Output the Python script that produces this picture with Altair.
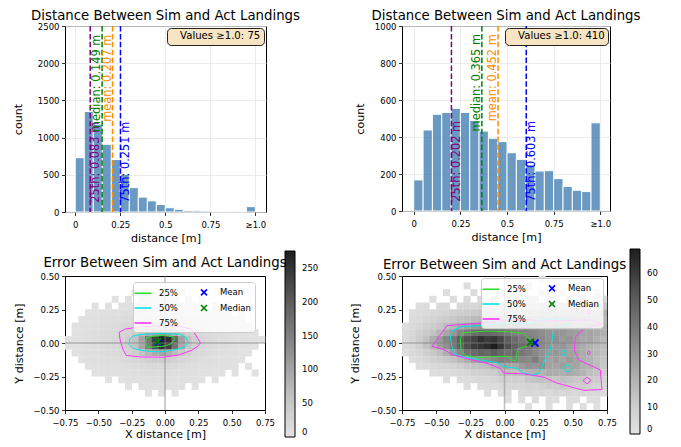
import altair as alt
import pandas as pd

FONT = "DejaVu Sans"

# ---------------- histogram data ----------------
BIN_LEFT = [0.00, 0.05, 0.10, 0.15, 0.20, 0.25, 0.30, 0.35, 0.40, 0.45,
            0.50, 0.55, 0.60, 0.65, 0.70, 0.75, 0.80, 0.85, 0.90, 0.95]
BIN_WIDTH = 0.05
HIST_L_COUNTS = [730, 1350, 1180, 910, 705, 506, 327, 200, 150, 100,
                 57, 36, 19, 17, 13, 5, 4, 3, 3, 72]
HIST_R_COUNTS = [168, 438, 523, 533, 555, 533, 490, 432, 393, 375,
                 315, 279, 250, 216, 218, 175, 133, 112, 105, 477]
STAT_NAMES = ["25th", "median", "mean", "75th"]
STAT_COLORS = ["purple", "green", "darkorange", "blue"]
HIST_L_STATS = [0.083, 0.149, 0.207, 0.251]
HIST_R_STATS = [0.202, 0.365, 0.452, 0.603]
HIST_L_OVER = 75
HIST_R_OVER = 410
HIST_X_TICKS = [0, 0.25, 0.5, 0.75, 1.0]
HIST_L_YTICKS = [0, 500, 1000, 1500, 2000, 2500]
HIST_R_YTICKS = [0, 200, 400, 600, 800, 1000]
HIST_L_XDOMAIN = [-0.057, 1.059]
HIST_R_XDOMAIN = [-0.063, 1.052]

# ---------------- 2D histogram data ----------------
HEAT_BIN = 0.05
HEAT_X_LOW = [-0.75, -0.70, -0.65, -0.60, -0.55, -0.50, -0.45, -0.40, -0.35, -0.30,
              -0.25, -0.20, -0.15, -0.10, -0.05, 0.00, 0.05, 0.10, 0.15, 0.20,
              0.25, 0.30, 0.35, 0.40, 0.45, 0.50, 0.55, 0.60, 0.65, 0.70]
HEAT_Y_LOW = [0.45, 0.40, 0.35, 0.30, 0.25, 0.20, 0.15, 0.10, 0.05, 0.00,
              -0.05, -0.10, -0.15, -0.20, -0.25, -0.30, -0.35, -0.40, -0.45, -0.50]
HEAT_X_TICKS = [-0.75, -0.5, -0.25, 0, 0.25, 0.5, 0.75]
HEAT_Y_TICKS = [-0.5, -0.25, 0, 0.25, 0.5]

HEAT_L = [
    [0] * 30,
    [0] * 30,
    [0,0,0,0,0,0,0,0,0,0,1,0,0,0,1,0,0,1,0,0,0,0,0,0,0,0,0,0,0,0],
    [0,0,0,0,0,0,0,1,0,2,0,2,3,2,3,2,2,0,1,0,1,0,0,0,0,0,0,0,0,0],
    [0,0,0,0,1,0,2,0,3,3,4,5,6,7,8,6,6,4,4,3,2,0,2,0,1,0,0,0,0,0],
    [0,0,0,2,2,3,4,5,6,8,9,11,12,14,15,14,12,10,8,7,5,4,3,3,2,0,1,0,0,0],
    [0,0,2,3,4,5,7,9,12,14,17,21,25,28,30,28,24,19,15,12,9,7,5,4,3,2,2,0,0,0],
    [0,2,3,4,6,8,10,13,17,22,28,38,48,56,60,56,46,34,25,18,13,10,7,5,4,3,2,2,0,0],
    [0,2,4,5,7,9,12,16,22,30,42,62,85,105,115,105,82,56,38,26,18,13,9,7,5,4,3,2,1,0],
    [1,2,4,6,8,11,14,19,27,38,58,100,165,235,270,255,185,105,60,36,24,16,11,8,6,4,3,2,2,1],
    [1,2,4,5,8,10,13,18,25,36,55,95,155,220,255,235,165,92,52,32,22,15,10,7,5,4,3,2,1,0],
    [0,2,3,5,6,8,11,15,20,27,38,55,75,92,98,88,68,47,32,22,15,11,8,6,4,3,2,2,0,0],
    [0,0,2,3,5,6,8,10,13,17,22,28,34,38,40,37,31,24,18,13,10,7,5,4,3,2,2,0,0,0],
    [0,0,0,2,3,4,5,6,8,10,12,14,16,18,18,17,15,12,10,8,6,5,4,3,2,2,0,1,0,0],
    [0,0,0,0,2,2,3,4,5,6,7,8,9,10,10,9,8,7,6,5,4,3,2,2,0,1,0,0,1,0],
    [0,0,0,0,0,0,1,0,2,3,3,4,4,5,5,4,4,3,3,2,2,0,1,0,0,0,0,0,0,0],
    [0,0,0,0,0,0,0,0,0,1,0,2,2,2,3,2,2,1,0,1,0,0,0,0,0,0,0,0,0,0],
    [0,0,0,0,0,0,0,0,0,0,0,0,1,0,1,0,1,0,0,0,0,0,0,0,0,0,0,0,0,0],
    [0] * 30,
    [0] * 30,
]

HEAT_R = [
    [0,0,0,0,0,0,0,0,0,0,0,0,0,0,0,0,0,0,0,0,2,0,0,0,0,0,0,0,0,0],
    [0,0,0,0,0,0,0,0,0,2,0,0,0,0,0,0,0,0,3,0,0,0,2,0,0,0,3,0,0,0],
    [0,0,0,0,0,0,2,0,0,0,3,0,0,0,3,0,0,4,0,0,4,0,0,3,0,4,0,0,3,0],
    [0,0,0,0,2,0,0,3,0,4,0,4,0,5,0,5,6,0,6,5,0,7,6,0,8,0,7,0,6,5],
    [0,0,2,3,0,4,4,0,5,6,6,7,8,8,9,10,9,10,11,10,12,11,13,12,12,13,14,12,13,12],
    [0,2,3,4,5,6,7,8,9,10,11,12,12,13,14,14,15,15,16,15,17,16,18,17,18,19,18,17,18,20],
    [0,3,4,6,7,9,10,12,14,15,17,18,19,19,20,21,21,22,21,22,23,22,24,22,23,22,21,20,19,18],
    [2,4,6,8,10,13,16,19,23,26,28,30,31,30,31,30,31,30,29,30,28,27,28,26,27,25,24,23,22,20],
    [3,5,8,11,14,19,24,30,36,40,45,47,46,45,43,40,38,37,36,35,33,31,30,30,28,27,25,25,23,21],
    [3,6,10,15,22,28,35,41,50,55,58,64,60,62,57,50,45,41,38,36,34,31,32,29,30,26,23,25,21,18],
    [3,5,8,14,20,27,32,40,48,55,60,62,65,69,62,55,48,45,41,38,34,31,29,30,27,25,22,20,18,16],
    [2,4,6,9,12,16,21,28,35,42,45,48,46,50,46,43,45,41,38,35,31,29,30,28,26,25,22,20,18,15],
    [0,2,4,6,8,10,12,14,18,22,28,30,32,35,38,36,38,35,34,38,31,26,28,25,28,25,22,20,16,13],
    [0,0,2,3,4,5,6,7,9,12,14,15,16,20,23,25,24,28,31,30,32,26,25,27,24,25,21,20,17,12],
    [0,0,0,0,2,3,3,4,5,6,8,8,9,10,14,16,15,17,20,21,20,23,22,21,23,22,20,16,14,10],
    [0,0,0,0,0,0,2,0,3,3,4,5,5,6,8,8,9,8,13,14,15,14,13,15,14,12,12,11,10,7],
    [0,0,0,0,0,0,0,0,0,2,0,2,3,3,4,5,6,6,7,6,8,10,9,11,10,9,10,8,7,5],
    [0,0,0,0,0,0,0,0,0,0,0,0,2,0,2,3,0,4,5,4,5,4,6,5,6,5,5,4,4,3],
    [0,0,0,0,0,0,0,0,0,0,0,0,0,0,0,2,0,2,0,3,0,3,2,0,3,3,0,2,2,0],
    [0,0,0,0,0,0,0,0,0,0,0,0,0,0,0,0,0,0,1,0,0,2,0,0,2,0,2,0,1,0],
]
HEAT_L_CMAX = 275
HEAT_R_CMAX = 69
HEAT_L_CTICKS = [0, 50, 100, 150, 200, 250]
HEAT_R_CTICKS = [0, 10, 20, 30, 40, 50, 60]

# contour outlines
L_C25_X = [-0.14, -0.09, -0.015, 0.065, 0.0725, 0.04, -0.015, -0.09, -0.14, -0.145, -0.14]
L_C25_Y = [0.040, 0.050, 0.056, 0.045, 0.028, -0.010, -0.025, -0.030, -0.030, 0.002, 0.040]
L_C50_X = [-0.265, -0.24, -0.165, -0.015, 0.11, 0.16, 0.1725, 0.1475, 0.06, -0.04, -0.14, -0.24, -0.27, -0.265]
L_C50_Y = [0.028, 0.053, 0.065, 0.071, 0.066, 0.040, 0.002, -0.031, -0.053, -0.066, -0.061, -0.041, -0.010, 0.028]
L_C75_X = [-0.345, -0.3025, -0.19, -0.015, 0.11, 0.1975, 0.235, 0.265, 0.2475, 0.1975, 0.0975, -0.015, -0.19, -0.29, -0.315, -0.335, -0.345]
L_C75_Y = [0.078, 0.103, 0.121, 0.129, 0.124, 0.103, 0.053, 0.002, -0.023, -0.056, -0.091, -0.106, -0.104, -0.093, -0.048, 0.015, 0.078]

R_C25_X = [-0.306, -0.136, 0.034, 0.143, 0.18, 0.184, 0.155, 0.095, 0.083, 0.053, 0.034, -0.063, -0.184, -0.282, -0.318, -0.323, -0.306]
R_C25_Y = [0.076, 0.089, 0.084, 0.071, 0.034, -0.002, -0.027, -0.044, -0.133, -0.126, -0.101, -0.101, -0.108, -0.094, -0.059, 0.034, 0.076]
R_C50_X = [-0.396, -0.384, -0.311, -0.177, 0.043, 0.165, 0.238, 0.335, 0.457, 0.482, 0.360, 0.348, 0.335, 0.299, 0.274, 0.250, 0.213, 0.140, 0.091, -0.006, -0.055, -0.177, -0.299, -0.372, -0.384, -0.396]
R_C50_Y = [0.044, 0.093, 0.123, 0.130, 0.147, 0.142, 0.167, 0.176, 0.179, 0.142, 0.105, 0.020, -0.054, -0.115, -0.176, -0.225, -0.238, -0.225, -0.189, -0.176, -0.147, -0.127, -0.103, -0.078, -0.029, 0.044]
R_C50B_X = [0.433, 0.451, 0.433, 0.415, 0.433]
R_C50B_Y = [-0.049, -0.074, -0.099, -0.074, -0.049]
R_C50C_X = [0.425, 0.46, 0.495, 0.46, 0.425]
R_C50C_Y = [-0.19, -0.16, -0.19, -0.22, -0.19]
R_C75_X = [-0.530, -0.421, -0.250, -0.055, 0.140, 0.262, 0.433, 0.628, 0.713, 0.579, 0.518, 0.511, 0.543, 0.701, 0.713, 0.579, 0.384, 0.287, 0.140, -0.006, -0.030, -0.128, -0.250, -0.372, -0.445, -0.530]
R_C75_Y = [-0.025, 0.130, 0.142, 0.162, 0.179, 0.162, 0.167, 0.172, 0.142, 0.105, 0.044, -0.054, -0.127, -0.201, -0.348, -0.353, -0.299, -0.255, -0.230, -0.225, -0.189, -0.152, -0.123, -0.091, -0.049, -0.025]
R_C75B_X = [0.617, 0.632, 0.617, 0.602, 0.617]
R_C75B_Y = [0.252, 0.232, 0.212, 0.232, 0.252]
R_C75C_X = [0.617, 0.629, 0.617, 0.605, 0.617]
R_C75C_Y = [-0.059, -0.074, -0.089, -0.074, -0.059]
R_C75D_X = [0.574, 0.604, 0.634, 0.604, 0.574]
R_C75D_Y = [-0.28, -0.255, -0.28, -0.305, -0.28]

L_MEAN = (-0.050, 0.007)
L_MEDIAN = (-0.055, 0.012)
R_MEAN = (0.223, 0.000)
R_MEDIAN = (0.190, 0.005)

LEVELS = ["25%", "50%", "75%", "Mean", "Median"]
LEVEL_COLORS = ["#33dd33", "#00e5e5", "#ff33ff", "#0000ff", "#008000"]
LINE_PATH = "M-1.7,0L1.7,0"
X_PATH = "M-0.6,-0.6L0.6,0.6M0.6,-0.6L-0.6,0.6"
LEVEL_SHAPES = [LINE_PATH, LINE_PATH, LINE_PATH, X_PATH, X_PATH]

LABEL_FRAC = {"25th": 0.05, "median": 0.43, "mean": 0.485, "75th": 0.05}
CELL_OVERLAP = 1.04  # tiny overlap so neighbouring cells leave no hairline seams


def hist_panel(counts, stats, over, ymax, yticks, xdomain, width, height, ytitle_pad):
    bars_df = pd.DataFrame({"x0": BIN_LEFT,
                            "x1": [b + BIN_WIDTH for b in BIN_LEFT],
                            "count": counts,
                            "base": [0] * len(BIN_LEFT)})
    xs = alt.Scale(domain=xdomain, nice=False, zero=False)
    ys = alt.Scale(domain=[0, ymax], nice=False, zero=True)
    xaxis = alt.Axis(values=HIST_X_TICKS, grid=True, title="distance [m]",
                     labelExpr="datum.value >= 1 ? '\u22651.0' : toString(datum.value)",
                     labelFlush=False, labelOverlap=False, labelPadding=4.5,
                     minExtent=15, maxExtent=15, titlePadding=5.5)
    yaxis = alt.Axis(values=yticks, format="d", grid=True, title="count",
                     minExtent=30, maxExtent=30, titlePadding=ytitle_pad)
    X = alt.X("x0:Q", scale=xs, axis=xaxis)
    Y = alt.Y("count:Q", scale=ys, axis=yaxis)

    bars = alt.Chart(bars_df).mark_rect(color="steelblue", opacity=0.8,
                                        stroke="white", strokeWidth=1).encode(
        x=X, x2="x1:Q", y=Y, y2="base:Q")

    sdf = pd.DataFrame({"x0": stats, "name": STAT_NAMES, "col": STAT_COLORS})
    sdf["label"] = [f"{n}: {v:.3f} m" for n, v in zip(STAT_NAMES, stats)]
    sdf["count"] = [LABEL_FRAC[n] * ymax for n in STAT_NAMES]
    sdf["side"] = ["r", "l", "l", "r"]

    rules = alt.Chart(sdf).mark_rule(strokeDash=[5.5, 2.4], strokeWidth=1.5).encode(
        x=X, color=alt.Color("col:N", scale=None))
    txt_r = alt.Chart(sdf).transform_filter("datum.side == 'r'").mark_text(
        angle=270, align="left", baseline="top", fontSize=11.4, font=FONT).encode(
        x=X, y=Y, text="label:N", color=alt.Color("col:N", scale=None))
    txt_l = alt.Chart(sdf).transform_filter("datum.side == 'l'").mark_text(
        angle=270, align="left", baseline="bottom", fontSize=11.4, font=FONT).encode(
        x=X, y=Y, text="label:N", color=alt.Color("col:N", scale=None))

    box_df = pd.DataFrame({"lab": [f"Values \u22651.0: {over}"]})
    box = alt.Chart(box_df).mark_point(opacity=0, size=1).encode(
        x=alt.value(5), y=alt.value(5),
        shape=alt.Shape("lab:N", legend=alt.Legend(
            title=None, orient="top-right", offset=2, fillColor="#f7e4c2",
            strokeColor="#222222", cornerRadius=4, padding=3,
            labelFontSize=10.1, labelFont=FONT, labelColor="black",
            symbolSize=0, symbolOpacity=0, symbolStrokeWidth=0, labelOffset=0)))

    return alt.layer(bars, rules, txt_r, txt_l, box).properties(
        width=width, height=height,
        title=alt.TitleParams("Distance Between Sim and Act Landings", fontSize=13.3,
                              fontWeight="normal", font=FONT, anchor="middle",
                              offset=0, dy=11, baseline="alphabetic", color="black"))


def heat_panel(grid, cmax, cticks, polys, mean_xy, median_xy, width, height,
               ytitle_pad, sym_xy, cb_xy, cb_len, title_dy):
    recs = []
    for j, row in enumerate(grid):
        for i, c in enumerate(row):
            if c > 0:
                recs.append({"x0": HEAT_X_LOW[i],
                             "x1": HEAT_X_LOW[i] + HEAT_BIN * CELL_OVERLAP,
                             "y0": HEAT_Y_LOW[j],
                             "y1": HEAT_Y_LOW[j] + HEAT_BIN * CELL_OVERLAP,
                             "count": c})
    hdf = pd.DataFrame(recs)
    xs = alt.Scale(domain=[-0.75, 0.75], nice=False, zero=False)
    ys = alt.Scale(domain=[-0.5, 0.5], nice=False, zero=False)
    xaxis = alt.Axis(values=HEAT_X_TICKS, format=".2f", grid=False, title="X distance [m]",
                     labelFlush=False, labelOverlap=False, labelPadding=5,
                     minExtent=15, maxExtent=15, titlePadding=3)
    yaxis = alt.Axis(values=HEAT_Y_TICKS, format=".2f", grid=False, title="Y distance [m]",
                     labelOverlap=False, minExtent=30, maxExtent=30, titlePadding=ytitle_pad)
    X = alt.X("x0:Q", scale=xs, axis=xaxis)
    Y = alt.Y("y0:Q", scale=ys, axis=yaxis)

    cb_legend = alt.Legend(title=None, orient="none", legendX=cb_xy[0], legendY=cb_xy[1],
                           direction="vertical", type="gradient", gradientLength=cb_len,
                           gradientThickness=10, values=cticks, gradientStrokeColor="black",
                           gradientStrokeWidth=1, labelFontSize=8.5, labelOffset=7,
                           labelColor="black", padding=0)
    rect = alt.Chart(hdf).mark_rect().encode(
        x=X, x2="x1:Q", y=Y, y2="y1:Q",
        color=alt.Color("count:Q", scale=alt.Scale(scheme="greys", domain=[0, cmax]),
                        legend=cb_legend))

    zero = pd.DataFrame({"x0": [0.0], "y0": [0.0]})
    vrule = alt.Chart(zero).mark_rule(color="gray", strokeWidth=1.5, opacity=0.5).encode(x=X)
    hrule = alt.Chart(zero).mark_rule(color="gray", strokeWidth=1.5, opacity=0.5).encode(y=Y)

    crec = []
    for k, (lev, px, py) in enumerate(polys):
        for n, (a, b) in enumerate(zip(px, py)):
            crec.append({"x0": a, "y0": b, "lev": lev, "seg": k, "idx": n})
    cdf = pd.DataFrame(crec)

    sym_leg = alt.Legend(title=None, orient="none", legendX=sym_xy[0], legendY=sym_xy[1],
                         columns=2, columnPadding=19, rowPadding=2, padding=4,
                         symbolSize=100, symbolStrokeWidth=1.6, labelFontSize=8.5,
                         labelOffset=10, labelColor="black",
                         fillColor="rgba(255,255,255,0.8)", strokeColor="#cccccc",
                         cornerRadius=3)
    stroke_scale = alt.Scale(domain=LEVELS, range=LEVEL_COLORS)
    shape_scale = alt.Scale(domain=LEVELS, range=LEVEL_SHAPES)

    lines = alt.Chart(cdf).mark_line(strokeWidth=1).encode(
        x=X, y=Y, detail="seg:N", order="idx:Q",
        stroke=alt.Stroke("lev:N", scale=stroke_scale, legend=sym_leg))

    mdf = pd.DataFrame({"x0": [mean_xy[0], median_xy[0]],
                        "y0": [mean_xy[1], median_xy[1]],
                        "lev": ["Mean", "Median"]})
    pts = alt.Chart(mdf).mark_point(filled=False, size=136, strokeWidth=2, opacity=1).encode(
        x=X, y=Y,
        stroke=alt.Stroke("lev:N", scale=stroke_scale, legend=sym_leg),
        shape=alt.Shape("lev:N", scale=shape_scale, legend=sym_leg))

    return alt.layer(rect, vrule, hrule, lines, pts).properties(
        width=width, height=height,
        title=alt.TitleParams("Error Between Sim and Act Landings", fontSize=13.3,
                              fontWeight="normal", font=FONT, anchor="middle",
                              offset=0, dy=title_dy, baseline="alphabetic", color="black"))


tl = hist_panel(HIST_L_COUNTS, HIST_L_STATS, HIST_L_OVER, 2500, HIST_L_YTICKS,
                HIST_L_XDOMAIN, 201, 186, 12)
tr = hist_panel(HIST_R_COUNTS, HIST_R_STATS, HIST_R_OVER, 1000, HIST_R_YTICKS,
                HIST_R_XDOMAIN, 208, 185, 7)

L_POLYS = [("25%", L_C25_X, L_C25_Y), ("50%", L_C50_X, L_C50_Y), ("75%", L_C75_X, L_C75_Y)]
R_POLYS = [("25%", R_C25_X, R_C25_Y), ("50%", R_C50_X, R_C50_Y),
           ("50%", R_C50B_X, R_C50B_Y), ("50%", R_C50C_X, R_C50C_Y),
           ("75%", R_C75_X, R_C75_Y), ("75%", R_C75B_X, R_C75B_Y),
           ("75%", R_C75C_X, R_C75C_Y), ("75%", R_C75D_X, R_C75D_Y)]

bl = heat_panel(HEAT_L, HEAT_L_CMAX, HEAT_L_CTICKS, L_POLYS, L_MEAN, L_MEDIAN,
                200, 134, 11, (68, 6), (220, -25), 186, 29)
br = heat_panel(HEAT_R, HEAT_R_CMAX, HEAT_R_CTICKS, R_POLYS, R_MEAN, R_MEDIAN,
                205, 134, 12, (79, 2), (228, -27), 185, 33)

chart = alt.concat(tl, tr, bl, br, columns=2, bounds="flush",
                   spacing={"row": 64, "column": 136}).resolve_scale(
    color="independent", shape="independent", stroke="independent"
).resolve_legend(
    color="independent", shape="independent", stroke="independent"
).properties(
    padding={"left": 3, "right": 4, "top": 0, "bottom": 0}
).configure(font=FONT).configure_view(stroke="black", strokeWidth=1).configure_axis(
    labelFont=FONT, titleFont=FONT, labelFontSize=8.5, titleFontSize=11.1,
    titleFontWeight="normal", labelColor="black", titleColor="black",
    tickColor="black", tickSize=3.5, tickWidth=0.8, domain=False, labelPadding=2.5,
    gridColor="#e6e6e6", gridWidth=0.8
).configure_legend(labelFont=FONT)

chart.save("out.html", embed_options={"renderer": "svg", "actions": False})
